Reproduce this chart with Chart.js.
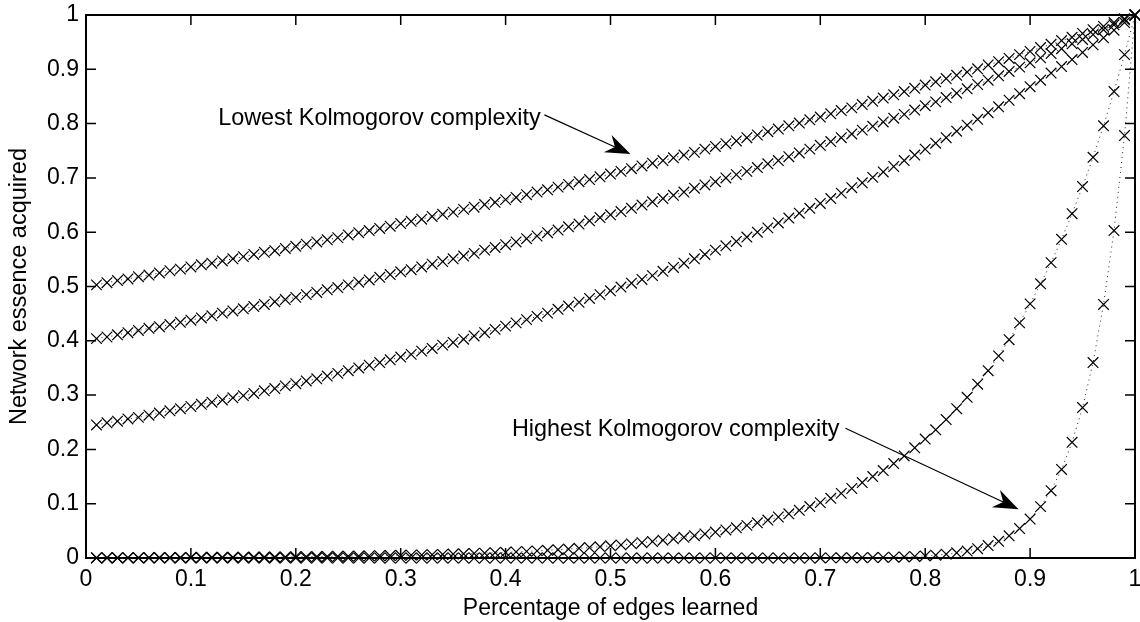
<!DOCTYPE html>
<html>
<head>
<meta charset="utf-8">
<script src="https://cdn.jsdelivr.net/npm/chart.js@4.4.1/dist/chart.umd.min.js"></script>
<style>
  html, body { margin: 0; padding: 0; background: #fff; }
  #wrap { width: 1140px; height: 622px; }
</style>
</head>
<body>
<div id="wrap"><canvas id="essenceChart" width="1140" height="622"></canvas></div>
<script>
// Percentage of edges learned (x), 0.01 .. 1.00
const edgesLearned = [
  0.01, 0.02, 0.03, 0.04, 0.05, 0.06, 0.07, 0.08, 0.09, 0.10,
  0.11, 0.12, 0.13, 0.14, 0.15, 0.16, 0.17, 0.18, 0.19, 0.20,
  0.21, 0.22, 0.23, 0.24, 0.25, 0.26, 0.27, 0.28, 0.29, 0.30,
  0.31, 0.32, 0.33, 0.34, 0.35, 0.36, 0.37, 0.38, 0.39, 0.40,
  0.41, 0.42, 0.43, 0.44, 0.45, 0.46, 0.47, 0.48, 0.49, 0.50,
  0.51, 0.52, 0.53, 0.54, 0.55, 0.56, 0.57, 0.58, 0.59, 0.60,
  0.61, 0.62, 0.63, 0.64, 0.65, 0.66, 0.67, 0.68, 0.69, 0.70,
  0.71, 0.72, 0.73, 0.74, 0.75, 0.76, 0.77, 0.78, 0.79, 0.80,
  0.81, 0.82, 0.83, 0.84, 0.85, 0.86, 0.87, 0.88, 0.89, 0.90,
  0.91, 0.92, 0.93, 0.94, 0.95, 0.96, 0.97, 0.98, 0.99, 1.00
];

// Network essence acquired, lowest complexity first
const essenceLowest = [
  .503, .507, .511, .514, .518, .521, .525, .529, .532, .536,
  .540, .543, .547, .551, .555, .559, .563, .566, .570, .574,
  .578, .582, .586, .590, .595, .599, .603, .607, .611, .616,
  .620, .624, .629, .633, .637, .642, .646, .651, .655, .660,
  .664, .669, .674, .678, .683, .688, .693, .697, .702, .707,
  .712, .717, .722, .727, .732, .737, .742, .747, .753, .758,
  .763, .768, .774, .779, .785, .790, .796, .801, .807, .812,
  .818, .824, .829, .835, .841, .847, .853, .859, .865, .871,
  .877, .883, .889, .895, .901, .908, .914, .920, .927, .933,
  .940, .946, .953, .959, .966, .973, .979, .986, .993, 1.000
];
const essenceLow = [
  .404, .407, .411, .415, .419, .423, .426, .430, .434, .438,
  .442, .446, .451, .455, .459, .463, .467, .472, .476, .480,
  .485, .489, .494, .498, .503, .508, .512, .517, .522, .527,
  .531, .536, .541, .546, .551, .556, .561, .567, .572, .577,
  .582, .588, .593, .599, .604, .610, .615, .621, .627, .632,
  .638, .644, .650, .656, .662, .668, .674, .681, .687, .693,
  .700, .706, .712, .719, .726, .732, .739, .746, .753, .760,
  .767, .774, .781, .788, .795, .803, .810, .817, .825, .833,
  .840, .848, .856, .864, .872, .880, .888, .896, .904, .912,
  .921, .929, .938, .947, .955, .964, .973, .982, .991, 1.000
];
const essenceMid = [
  .245, .249, .252, .256, .259, .263, .267, .271, .275, .279,
  .283, .287, .291, .295, .299, .303, .308, .312, .317, .321,
  .326, .330, .335, .340, .345, .350, .355, .360, .365, .370,
  .375, .381, .386, .392, .397, .403, .409, .415, .421, .427,
  .433, .439, .445, .451, .458, .464, .471, .478, .485, .492,
  .499, .506, .513, .520, .528, .535, .543, .551, .559, .567,
  .575, .583, .591, .600, .608, .617, .626, .635, .644, .653,
  .662, .672, .682, .691, .701, .711, .721, .732, .742, .753,
  .764, .774, .786, .797, .808, .820, .831, .843, .855, .868,
  .880, .893, .905, .918, .931, .945, .958, .972, .986, 1.000
];
const essenceHigh = [
  .0005, .0006, .0006, .0007, .0007, .0008, .0008, .0009, .0010, .0011,
  .0012, .0012, .0013, .0015, .0016, .0017, .0018, .0020, .0021, .0023,
  .0025, .0027, .0029, .0031, .0033, .0036, .0039, .0042, .0045, .0049,
  .0053, .0057, .0061, .0066, .0072, .0077, .0083, .0090, .0097, .0105,
  .0113, .0122, .0131, .0142, .0153, .0165, .0178, .0192, .0207, .0224,
  .0241, .0260, .0281, .0303, .0327, .0353, .0381, .0411, .0443, .0478,
  .0516, .0557, .0601, .0648, .0699, .0755, .0814, .0879, .0948, .102,
  .110, .119, .128, .139, .150, .161, .174, .188, .203, .219,
  .236, .255, .275, .296, .320, .345, .372, .402, .433, .468,
  .505, .544, .587, .634, .684, .738, .796, .859, .927, 1.000
];
const essenceHighest = [
  0, 0, 0, 0, 0, 0, 0, 0, 0, 0,
  0, 0, 0, 0, 0, 0, 0, 0, 0, 0,
  0, 0, 0, 0, 0, 0, 0, 0, 0, 0,
  0, 0, 0, 0, 0, 0, 0, 0, 0, 0,
  0, 0, 0, 0, 0, 0, 0, 0, 0, 0,
  0, 0, 0, 0, 0, 0, 0, 0, 0, 0,
  0, 0, 0, 0, 0, 0, 0, 0, 0, .0001,
  .0002, .0003, .0004, .0005, .0008, .0010, .0015, .0020, .0028, .0038,
  .0052, .0070, .0095, .0128, .0172, .0230, .0308, .0409, .0543, .0718,
  .0946, .124, .163, .213, .277, .360, .467, .603, .778, 1.000
];

const seriesList = [essenceLowest, essenceLow, essenceMid, essenceHigh, essenceHighest];

// text callouts, in data coordinates
const callouts = [
  { text: 'Lowest Kolmogorov complexity', at: [0.126, 0.810], from: [0.437, 0.816], to: [0.519, 0.744] },
  { text: 'Highest Kolmogorov complexity', at: [0.406, 0.236], from: [0.724, 0.239], to: [0.889, 0.090] }
];

const FONT = "'Liberation Sans', Arial, Helvetica, sans-serif";
const FONT_SIZE = 23;
const TICK_LEN = 10;

// box round the plot and inward ticks on all four sides
const boxTicks = {
  id: 'boxTicks',
  afterDatasetsDraw(chart) {
    const { ctx, chartArea: a, scales: { x, y } } = chart;
    ctx.save();
    ctx.strokeStyle = '#000';
    ctx.lineWidth = 1.5;
    ctx.beginPath();
    x.ticks.forEach(t => {
      const px = x.getPixelForValue(t.value);
      ctx.moveTo(px, a.bottom); ctx.lineTo(px, a.bottom - TICK_LEN);
      ctx.moveTo(px, a.top); ctx.lineTo(px, a.top + TICK_LEN);
    });
    y.ticks.forEach(t => {
      const py = y.getPixelForValue(t.value);
      ctx.moveTo(a.left, py); ctx.lineTo(a.left + TICK_LEN, py);
      ctx.moveTo(a.right, py); ctx.lineTo(a.right - TICK_LEN, py);
    });
    ctx.stroke();
    ctx.lineWidth = 2;
    ctx.strokeRect(a.left, a.top, a.right - a.left, a.bottom - a.top);
    ctx.restore();
  }
};

// text labels with arrows
const arrowNotes = {
  id: 'arrowNotes',
  afterDraw(chart) {
    const { ctx, scales: { x, y } } = chart;
    ctx.save();
    ctx.fillStyle = '#000';
    ctx.strokeStyle = '#000';
    ctx.font = '23.4px ' + FONT;
    ctx.textBaseline = 'middle';
    ctx.textAlign = 'left';
    callouts.forEach(c => {
      ctx.fillText(c.text, x.getPixelForValue(c.at[0]), y.getPixelForValue(c.at[1]));
      const x0 = x.getPixelForValue(c.from[0]), y0 = y.getPixelForValue(c.from[1]);
      const x1 = x.getPixelForValue(c.to[0]), y1 = y.getPixelForValue(c.to[1]);
      const len = Math.hypot(x1 - x0, y1 - y0);
      const ux = (x1 - x0) / len, uy = (y1 - y0) / len;
      const nx = -uy, ny = ux;
      const headLen = 25, headHalf = 9.5, notch = 17;
      ctx.lineWidth = 1.2;
      ctx.beginPath();
      ctx.moveTo(x0, y0);
      ctx.lineTo(x1 - ux * notch, y1 - uy * notch);
      ctx.stroke();
      ctx.beginPath();
      ctx.moveTo(x1, y1);
      ctx.lineTo(x1 - ux * headLen + nx * headHalf, y1 - uy * headLen + ny * headHalf);
      ctx.lineTo(x1 - ux * notch, y1 - uy * notch);
      ctx.lineTo(x1 - ux * headLen - nx * headHalf, y1 - uy * headLen - ny * headHalf);
      ctx.closePath();
      ctx.fill();
    });
    ctx.restore();
  }
};

const tickText = v => String(Math.round(v * 10) / 10);

const ctx = document.getElementById('essenceChart').getContext('2d');
new Chart(ctx, {
  type: 'scatter',
  data: {
    datasets: seriesList.map(values => ({
      data: values.map((v, i) => ({ x: edgesLearned[i], y: v })),
      showLine: true,
      borderColor: '#222',
      borderWidth: 1,
      borderDash: [1, 4],
      pointStyle: 'crossRot',
      pointRadius: 7.5,
      pointBorderColor: '#000',
      pointBorderWidth: 1.2,
      pointBackgroundColor: '#000',
      clip: false
    }))
  },
  options: {
    responsive: false,
    animation: false,
    layout: { autoPadding: false, padding: { top: 15, right: 5, left: 0, bottom: 0 } },
    plugins: {
      legend: { display: false },
      tooltip: { enabled: false }
    },
    scales: {
      x: {
        type: 'linear',
        min: 0,
        max: 1,
        afterFit: scale => {
          scale.height = 64;
          scale.paddingLeft = 0;
          scale.paddingRight = 0;
        },
        grid: { display: false, drawTicks: false },
        border: { display: false },
        ticks: { stepSize: 0.1, callback: tickText, color: '#000', padding: 8, maxRotation: 0, autoSkip: false, font: { family: FONT, size: FONT_SIZE } },
        title: { display: true, text: 'Percentage of edges learned', color: '#000', padding: { top: 0, bottom: 0 }, font: { family: FONT, size: FONT_SIZE } }
      },
      y: {
        type: 'linear',
        min: 0,
        max: 1,
        afterFit: scale => {
          scale.width = 86;
          scale.paddingTop = 0;
          scale.paddingBottom = 0;
        },
        grid: { display: false, drawTicks: false },
        border: { display: false },
        ticks: { stepSize: 0.1, callback: tickText, color: '#000', padding: 7, autoSkip: false, font: { family: FONT, size: FONT_SIZE } },
        title: { display: true, text: 'Network essence acquired', color: '#000', padding: { top: 5, bottom: 0 }, font: { family: FONT, size: 23.5 } }
      }
    }
  },
  plugins: [boxTicks, arrowNotes]
});
</script>
</body>
</html>
